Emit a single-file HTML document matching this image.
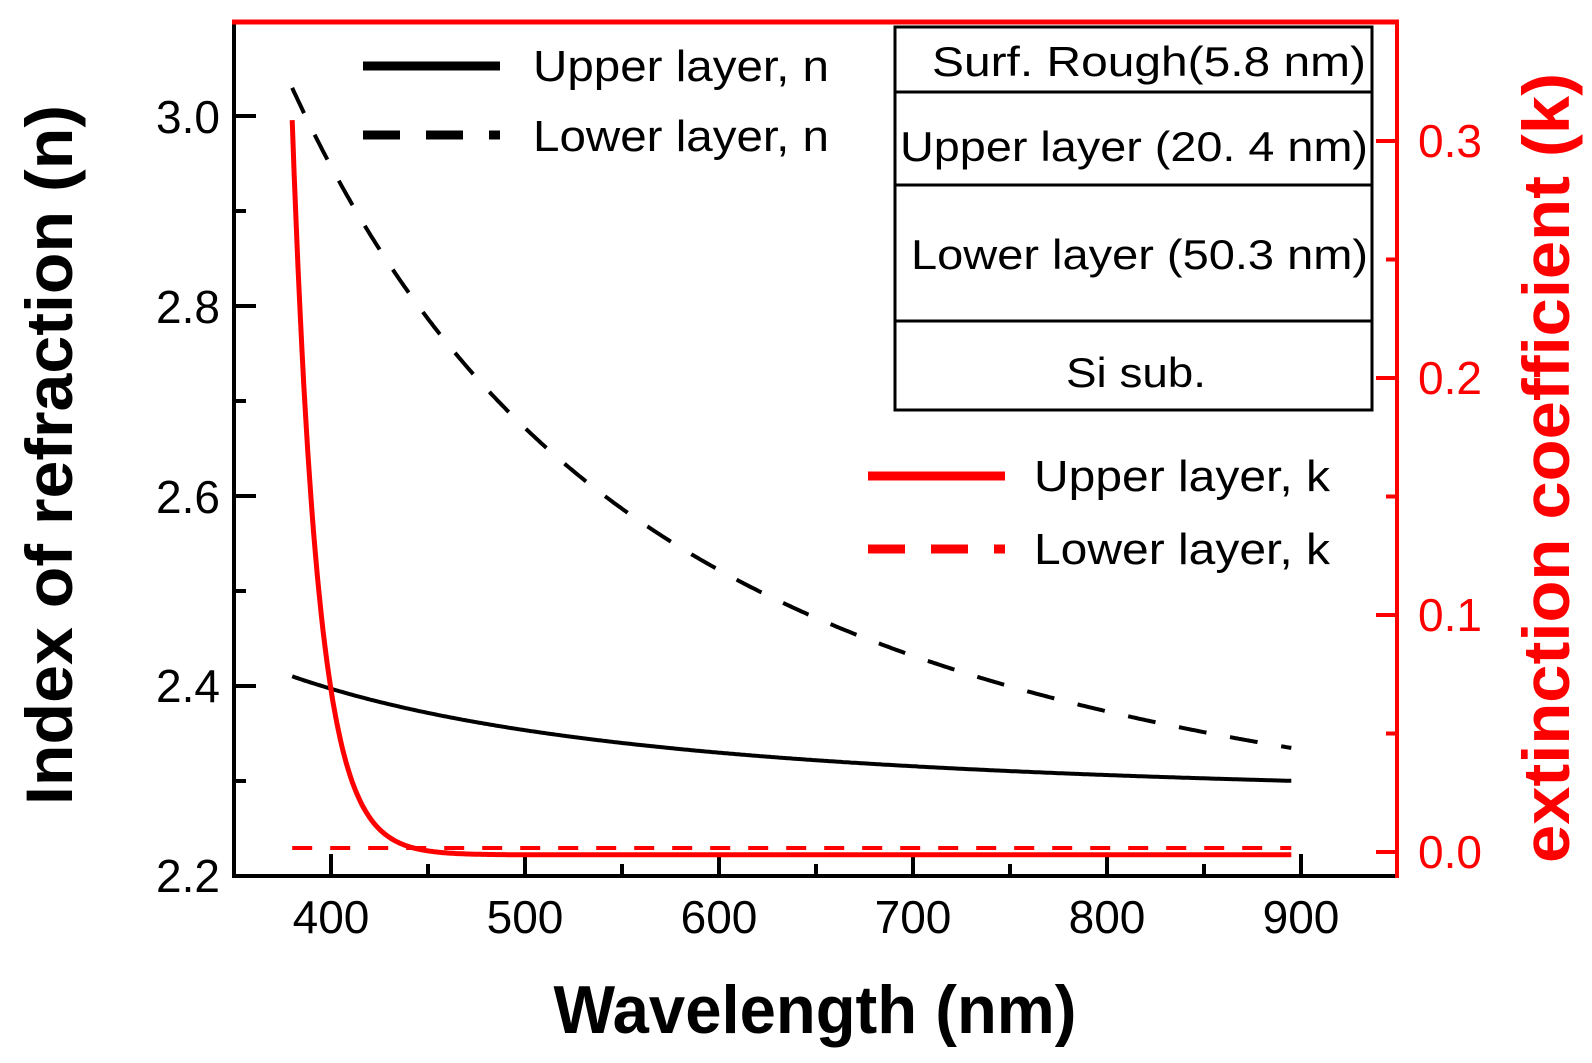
<!DOCTYPE html>
<html><head><meta charset="utf-8"><style>
html,body{margin:0;padding:0;background:#fff;}
svg{display:block;}
text{font-family:"Liberation Sans",Arial,sans-serif;}
</style></head><body>
<svg id="s" width="1592" height="1063" viewBox="0 0 1592 1063" xmlns="http://www.w3.org/2000/svg">
<rect width="1592" height="1063" fill="#fff"/>
<!-- axes -->
<line x1="234" y1="22" x2="234" y2="878" stroke="#000" stroke-width="4"/>
<line x1="232" y1="876" x2="1397" y2="876" stroke="#000" stroke-width="4"/>
<line x1="232" y1="22" x2="1399" y2="22" stroke="#f00" stroke-width="5"/>
<line x1="1397" y1="20" x2="1397" y2="878" stroke="#f00" stroke-width="4"/>
<g id="ticks"></g>
<!-- tick labels -->
<g font-size="46" fill="#000" text-anchor="end">
<text x="220" y="133">3.0</text>
<text x="220" y="323">2.8</text>
<text x="220" y="513">2.6</text>
<text x="220" y="702">2.4</text>
<text x="220" y="892">2.2</text>
</g>
<g font-size="46" fill="#000" text-anchor="middle">
<text x="331" y="933">400</text>
<text x="525" y="933">500</text>
<text x="719" y="933">600</text>
<text x="913" y="933">700</text>
<text x="1107" y="933">800</text>
<text x="1301" y="933">900</text>
</g>
<g font-size="46" fill="#f00" text-anchor="start">
<text x="1418" y="157">0.3</text>
<text x="1418" y="394">0.2</text>
<text x="1418" y="631">0.1</text>
<text x="1418" y="868">0.0</text>
</g>
<text x="815" y="1033" font-size="68" font-weight="bold" text-anchor="middle" textLength="523" lengthAdjust="spacingAndGlyphs">Wavelength (nm)</text>
<text transform="translate(72,455) rotate(-90)" font-size="66" font-weight="bold" text-anchor="middle" textLength="700" lengthAdjust="spacingAndGlyphs">Index of refraction (n)</text>
<text transform="translate(1569,468) rotate(-90)" font-size="66" font-weight="bold" fill="#f00" text-anchor="middle" textLength="790" lengthAdjust="spacingAndGlyphs">extinction coefficient (k)</text>
<!-- layer box -->
<g stroke="#000" stroke-width="3" fill="none">
<rect x="895" y="27" width="477" height="383"/>
<line x1="895" y1="92" x2="1372" y2="92"/>
<line x1="895" y1="185" x2="1372" y2="185"/>
<line x1="895" y1="321" x2="1372" y2="321"/>
</g>
<g font-size="42" fill="#000">
<text x="932" y="76" textLength="434" lengthAdjust="spacingAndGlyphs">Surf. Rough(5.8 nm)</text>
<text x="900" y="161" textLength="468" lengthAdjust="spacingAndGlyphs">Upper layer (20. 4 nm)</text>
<text x="911" y="269" textLength="457" lengthAdjust="spacingAndGlyphs">Lower layer (50.3 nm)</text>
<text x="1066" y="387" textLength="140" lengthAdjust="spacingAndGlyphs">Si sub.</text>
</g>
<!-- legends -->
<line x1="363" y1="66" x2="500" y2="66" stroke="#000" stroke-width="9"/>
<line x1="363" y1="135" x2="500" y2="135" stroke="#000" stroke-width="9" stroke-dasharray="37,26"/>
<line x1="868" y1="476" x2="1005" y2="476" stroke="#f00" stroke-width="9"/>
<line x1="868" y1="549" x2="1005" y2="549" stroke="#f00" stroke-width="9" stroke-dasharray="37,26"/>
<g font-size="44" fill="#000">
<text x="533" y="81" textLength="296" lengthAdjust="spacingAndGlyphs">Upper layer, n</text>
<text x="533" y="151" textLength="296" lengthAdjust="spacingAndGlyphs">Lower layer, n</text>
<text x="1034" y="491" textLength="296" lengthAdjust="spacingAndGlyphs">Upper layer, k</text>
<text x="1034" y="564" textLength="296" lengthAdjust="spacingAndGlyphs">Lower layer, k</text>
</g>
<path id="nU" fill="none" stroke="#000" stroke-width="4"/>
<path id="nL" fill="none" stroke="#000" stroke-width="4" stroke-dasharray="28,24"/>
<path id="kL" fill="none" stroke="#f00" stroke-width="4" stroke-dasharray="20,18"/>
<path id="kU" fill="none" stroke="#f00" stroke-width="5"/>
</svg>
<script>
function X(l){return 331+(l-400)*1.94;}
function Yn(n){return 876-(n-2.2)*950;}
function Yk(k){return 852-k*2370;}
function path(f,Y){var d="";for(var l=380;l<=895;l+=1){d+=(l==380?"M":"L")+X(l).toFixed(1)+","+Y(f(l)).toFixed(1);}return d;}
document.getElementById("nU").setAttribute("d",path(function(l){return 2.276+19375/(l*l);},Yn));
document.getElementById("nL").setAttribute("d",path(function(l){return 2.182+122400/(l*l);},Yn));
document.getElementById("kU").setAttribute("d",path(function(l){return 0.31*Math.exp(-(l-380)/13.4)-0.0012;},Yk));
document.getElementById("kL").setAttribute("d",path(function(l){return 0.0017;},Yk));
var t="";
[3.0,2.8,2.6,2.4,2.2].forEach(function(v){var y=Yn(v);t+='<line x1="234" y1="'+y+'" x2="256" y2="'+y+'" stroke="#000" stroke-width="4"/>';});
[2.9,2.7,2.5,2.3].forEach(function(v){var y=Yn(v);t+='<line x1="234" y1="'+y+'" x2="246" y2="'+y+'" stroke="#000" stroke-width="4"/>';});
for(var l=400;l<=900;l+=100){var x=X(l);t+='<line x1="'+x+'" y1="876" x2="'+x+'" y2="854" stroke="#000" stroke-width="4"/>';}
for(var l=450;l<=850;l+=100){var x=X(l);t+='<line x1="'+x+'" y1="876" x2="'+x+'" y2="864" stroke="#000" stroke-width="4"/>';}
[0,0.1,0.2,0.3].forEach(function(v){var y=Yk(v);t+='<line x1="1376" y1="'+y+'" x2="1397" y2="'+y+'" stroke="#f00" stroke-width="4"/>';});
[0.05,0.15,0.25].forEach(function(v){var y=Yk(v);t+='<line x1="1386" y1="'+y+'" x2="1397" y2="'+y+'" stroke="#f00" stroke-width="4"/>';});
document.getElementById("ticks").innerHTML=t;
</script>
</body></html>
